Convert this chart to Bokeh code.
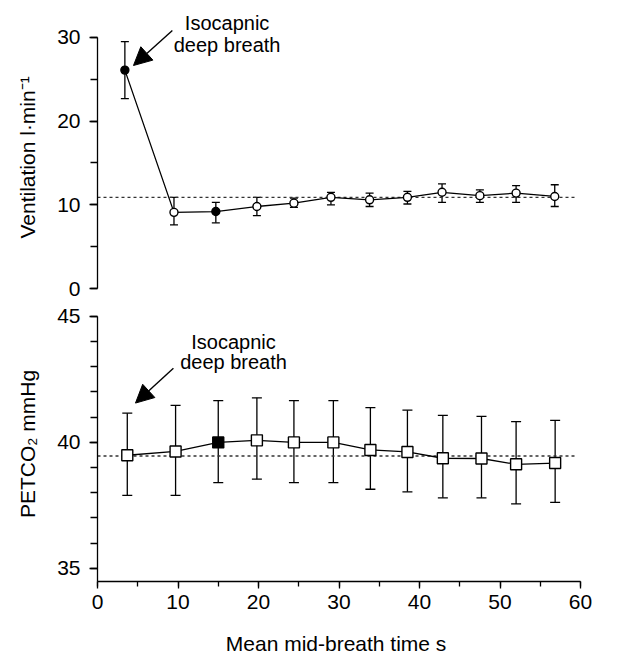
from bokeh.plotting import figure
from bokeh.layouts import column
from bokeh.models import (ColumnDataSource, Whisker, TeeHead, Arrow, NormalHead,
                          Range1d, SingleIntervalTicker)
from bokeh.core.properties import value
from bokeh.embed import file_html
from bokeh.resources import INLINE

# ---------------- data ----------------
t_vent = [3.4, 9.5, 14.7, 19.8, 24.4, 29.0, 33.8, 38.5, 42.8, 47.5, 52.0, 56.8]
vent = [26.1, 9.1, 9.2, 9.8, 10.2, 10.9, 10.6, 10.9, 11.5, 11.1, 11.4, 11.0]
vent_hi = [29.5, 10.9, 10.3, 10.9, 10.8, 11.5, 11.4, 11.6, 12.5, 11.8, 12.3, 12.4]
vent_lo = [22.7, 7.6, 7.85, 8.7, 9.7, 10.0, 9.8, 10.1, 10.3, 10.3, 10.3, 9.8]
vent_filled = [True, False, True, False, False, False, False, False, False, False, False, False]
vent_baseline = 10.9

t_pet = [3.7, 9.7, 15.0, 19.8, 24.4, 29.3, 33.9, 38.5, 42.9, 47.7, 52.0, 56.85]
pet = [39.49, 39.64, 40.0, 40.08, 40.0, 40.0, 39.7, 39.62, 39.37, 39.36, 39.13, 39.18]
pet_hi = [41.16, 41.47, 41.66, 41.77, 41.66, 41.66, 41.38, 41.28, 41.07, 41.03, 40.82, 40.87]
pet_lo = [37.9, 37.9, 38.4, 38.54, 38.4, 38.4, 38.14, 38.04, 37.8, 37.8, 37.56, 37.62]
pet_filled = [False, False, True, False, False, False, False, False, False, False, False, False]
pet_baseline = 39.46

baseline_x = [0, 59.6]

note_text = ["Isocapnic", "deep breath"]
vent_note_x = [16.1, 16.1]
vent_note_y = [31.67, 29.04]
vent_arrow = [9.3, 30.84, 4.47, 26.65]
pet_note_x = [16.9, 16.9]
pet_note_y = [43.97, 43.18]
pet_arrow = [9.43, 42.94, 4.72, 41.56]

x_label = "Mean mid-breath time  s"
vent_label = "Ventilation  l·min⁻¹"
pet_label = "PETCO₂  mmHg"

FONT = "Liberation Sans"
W = 608


def style_axis(ax, major_out=8, minor_out=7):
    ax.axis_line_color = "black"
    ax.axis_line_width = 1.3
    ax.major_tick_line_color = "black"
    ax.minor_tick_line_color = "black"
    ax.major_tick_line_width = 1.3
    ax.minor_tick_line_width = 1.3
    ax.major_tick_in = 0
    ax.major_tick_out = major_out
    ax.minor_tick_in = 0
    ax.minor_tick_out = minor_out
    ax.major_label_text_font = FONT
    ax.major_label_text_font_size = "21px"
    ax.major_label_text_color = "black"
    ax.axis_label_text_font = FONT
    ax.axis_label_text_font_size = "21px"
    ax.axis_label_text_font_style = "normal"
    ax.axis_label_text_color = "black"


def panel(p, t, y, hi, lo, filled, base, marker, msize, cap):
    src = ColumnDataSource(dict(
        x=t, y=y, hi=hi, lo=lo,
        fill=["black" if f else "white" for f in filled]))
    p.add_layout(Whisker(source=src, base="x", upper="hi", lower="lo",
                         dimension="height", line_color="black", line_width=1.3,
                         upper_head=TeeHead(size=cap, line_color="black", line_width=1.3),
                         lower_head=TeeHead(size=cap, line_color="black", line_width=1.3)))
    p.line(baseline_x, [base, base], line_color="#333333", line_width=1.3,
           line_dash="3 3")
    p.line("x", "y", source=src, line_color="black", line_width=1.3)
    p.scatter("x", "y", source=src, marker=marker, size=msize,
              fill_color="fill", line_color="black", line_width=1.4)


# ---------------- top panel ----------------
p1 = figure(width=W, height=300, output_backend="svg", toolbar_location=None,
            x_range=Range1d(0, 60), y_range=Range1d(-1.43, 33.46),
            x_axis_location=None, min_border_left=97, min_border_right=28,
            min_border_top=8, min_border_bottom=0)
p1.outline_line_color = None
p1.grid.visible = False
p1.yaxis.ticker = SingleIntervalTicker(interval=10, num_minor_ticks=2)
p1.yaxis.bounds = (0, 30)
p1.yaxis.axis_label = vent_label
p1.yaxis.major_label_standoff = 9
p1.yaxis.axis_label_standoff = 15
style_axis(p1.yaxis[0])

panel(p1, t_vent, vent, vent_hi, vent_lo, vent_filled, vent_baseline, "circle", 8, 8)
p1.text(x=vent_note_x, y=vent_note_y, text=note_text, text_font=value(FONT),
        text_font_size="20px", text_align="center", text_baseline="middle",
        text_color="black")
p1.add_layout(Arrow(end=NormalHead(size=18, fill_color="black", line_color="black"),
                    x_start=vent_arrow[0], y_start=vent_arrow[1],
                    x_end=vent_arrow[2], y_end=vent_arrow[3],
                    line_color="black", line_width=1.4))

# ---------------- bottom panel ----------------
p2 = figure(width=W, height=357, output_backend="svg", toolbar_location=None,
            x_range=Range1d(0, 60), y_range=Range1d(34.48, 45.63),
            min_border_left=97, min_border_right=28,
            min_border_top=0, min_border_bottom=75)
p2.outline_line_color = None
p2.grid.visible = False
p2.yaxis.ticker = SingleIntervalTicker(interval=5, num_minor_ticks=5)
p2.yaxis.bounds = (34.48, 45)
p2.yaxis.axis_label = pet_label
p2.yaxis.major_label_standoff = 9
p2.yaxis.axis_label_standoff = 15
style_axis(p2.yaxis[0])
p2.xaxis.ticker = SingleIntervalTicker(interval=10, num_minor_ticks=2)
p2.xaxis.bounds = (0, 60)
p2.xaxis.axis_label = x_label
p2.xaxis.major_label_standoff = 6
p2.xaxis.axis_label_standoff = 20
style_axis(p2.xaxis[0], major_out=7, minor_out=5)

panel(p2, t_pet, pet, pet_hi, pet_lo, pet_filled, pet_baseline, "square", 11, 10)
p2.text(x=pet_note_x, y=pet_note_y, text=note_text, text_font=value(FONT),
        text_font_size="20px", text_align="center", text_baseline="middle",
        text_color="black")
p2.add_layout(Arrow(end=NormalHead(size=18, fill_color="black", line_color="black"),
                    x_start=pet_arrow[0], y_start=pet_arrow[1],
                    x_end=pet_arrow[2], y_end=pet_arrow[3],
                    line_color="black", line_width=1.4))

layout = column(p1, p2)
open("out.html", "w").write(file_html(layout, INLINE))
